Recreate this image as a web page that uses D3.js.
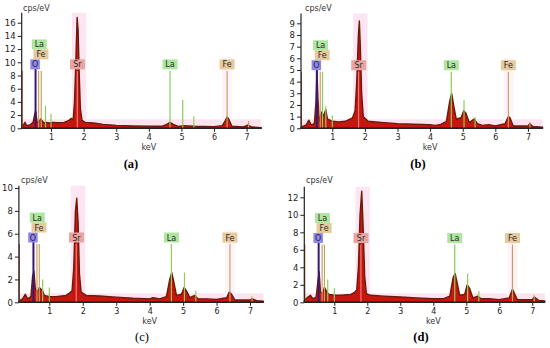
<!DOCTYPE html>
<html>
<head>
<meta charset="utf-8">
<script src="https://cdn.jsdelivr.net/npm/d3@7/dist/d3.min.js"></script>
<style>
body { margin: 0; background: #fff; }
svg { display: block; font-family: "DejaVu Sans", Verdana, sans-serif; }
</style>
</head>
<body>
<svg id="eds" width="550" height="348"></svg>
<script>
// spectra, [keV, cps/eV]
var specA = [[0.1,0.2],[0.15,0.5],[0.2,0.9],[0.25,0.4],[0.35,0.5],[0.45,0.9],[0.5,2.2],[0.53,2.6],[0.57,1.0],[0.62,0.9],[0.68,1.4],[0.72,1.2],[0.78,0.8],[0.85,0.9],[0.95,0.8],[1.05,0.9],[1.2,0.85],[1.4,0.9],[1.55,1.2],[1.62,1.5],[1.68,1.3],[1.72,4],[1.76,10],[1.8,16.8],[1.83,15],[1.86,9],[1.9,3],[1.95,1.2],[2.05,0.9],[2.3,0.8],[2.6,0.6],[3.0,0.45],[3.5,0.35],[4.0,0.3],[4.4,0.3],[4.55,0.6],[4.65,0.9],[4.75,0.6],[4.9,0.3],[5.05,0.4],[5.4,0.3],[6.0,0.25],[6.25,0.4],[6.35,1.2],[6.4,1.7],[6.45,1.4],[6.55,0.3],[6.9,0.2],[7.05,0.5],[7.15,0.2],[7.45,0.1]];
var specB = [[0.04,0.1],[0.2,0.3],[0.28,0.7],[0.35,0.3],[0.45,0.4],[0.5,2.3],[0.53,5.0],[0.56,2.5],[0.6,0.6],[0.68,1.4],[0.72,1.0],[0.8,1.6],[0.85,0.8],[1.0,0.6],[1.2,0.55],[1.4,0.6],[1.55,0.8],[1.62,0.9],[1.7,1.5],[1.75,4],[1.8,8],[1.83,9.2],[1.86,7],[1.9,3],[1.95,1.0],[2.1,0.6],[2.5,0.5],[3.0,0.4],[3.5,0.35],[4.0,0.3],[4.15,0.25],[4.3,0.3],[4.5,0.6],[4.6,2.3],[4.66,3.0],[4.72,2.0],[4.8,0.8],[4.95,0.9],[5.03,1.5],[5.1,1.3],[5.2,0.5],[5.35,0.8],[5.45,0.4],[5.6,0.25],[5.8,0.3],[6.0,0.2],[6.3,0.4],[6.4,1.0],[6.45,0.9],[6.55,0.2],[7.0,0.2],[7.06,0.4],[7.15,0.15],[7.45,0.1]];
var specC = [[0.09,0.1],[0.2,0.3],[0.28,0.7],[0.35,0.3],[0.45,0.5],[0.5,2.3],[0.54,2.7],[0.58,1.2],[0.65,0.9],[0.7,1.3],[0.8,1.0],[0.85,0.6],[1.0,0.5],[1.2,0.5],[1.5,0.6],[1.6,0.8],[1.68,1.0],[1.73,3],[1.78,8],[1.82,9.1],[1.86,7],[1.9,2.5],[1.95,0.9],[2.1,0.6],[2.5,0.55],[3.0,0.45],[3.5,0.35],[4.0,0.3],[4.1,0.4],[4.3,0.3],[4.5,0.5],[4.6,2.0],[4.66,2.6],[4.72,1.8],[4.8,0.6],[4.95,0.7],[5.03,1.3],[5.1,1.0],[5.2,0.4],[5.35,0.6],[5.45,0.3],[5.7,0.3],[6.0,0.25],[6.3,0.4],[6.38,0.9],[6.45,0.7],[6.55,0.2],[7.0,0.2],[7.06,0.3],[7.2,0.15],[7.4,0.1]];
var specD = [[0.09,0.2],[0.2,0.6],[0.28,0.8],[0.35,0.4],[0.45,0.6],[0.5,2.3],[0.54,3.5],[0.58,1.2],[0.65,1.0],[0.7,1.7],[0.8,1.0],[0.85,0.9],[1.0,0.8],[1.2,0.8],[1.5,0.9],[1.6,1.1],[1.68,1.4],[1.73,4],[1.78,10],[1.83,12.7],[1.87,9],[1.92,3],[1.97,1.0],[2.1,0.8],[2.5,0.7],[3.0,0.6],[3.5,0.5],[4.0,0.4],[4.3,0.4],[4.5,0.7],[4.6,2.8],[4.66,3.3],[4.72,2.3],[4.8,0.8],[4.95,0.9],[5.03,2.0],[5.1,1.6],[5.2,0.5],[5.35,0.7],[5.45,0.4],[5.7,0.4],[6.0,0.3],[6.3,0.5],[6.4,1.5],[6.45,1.1],[6.55,0.3],[7.0,0.3],[7.06,0.6],[7.2,0.2],[7.38,0.15]];

// element marker lines: [keV, element, height]
var linesA = [[0.525,"O",9.0],[0.62,"Fe",8.7],[0.7,"Fe",8.7],[0.83,"La",3.4],[1.0,"La",2.2],[1.806,"Sr",8.7],[4.65,"La",8.7],[5.04,"La",4.3],[5.38,"La",1.8],[6.40,"Fe",8.7],[7.06,"Fe",1.1]];
var linesB = [[0.525,"O",5.2],[0.63,"Fe",4.85],[0.7,"La",4.85],[0.8,"La",1.9],[1.0,"La",1.1],[1.806,"Sr",4.85],[4.65,"La",4.85],[5.04,"La",2.4],[5.38,"La",0.95],[6.40,"Fe",4.85],[7.06,"Fe",0.55]];
var linesC = [[0.525,"O",5.3],[0.63,"Fe",5.1],[0.7,"Fe",5.1],[0.8,"La",2.0],[1.0,"La",1.3],[1.806,"Sr",5.1],[4.65,"La",5.1],[5.04,"La",2.6],[5.38,"La",1.0],[6.40,"Fe",5.1],[7.06,"Fe",0.5]];
var linesD = [[0.525,"O",7.0],[0.63,"Fe",6.6],[0.7,"Fe",6.6],[0.8,"La",2.6],[1.0,"La",1.6],[1.806,"Sr",6.6],[4.65,"La",6.6],[5.04,"La",3.3],[5.38,"La",1.3],[6.40,"Fe",6.6],[7.06,"Fe",0.8]];

// labels: [text, keV, row]  row 0 = base row, 1 = above, 2 = top
var labels = [["O",0.51,0],["Fe",0.69,1],["La",0.64,2],["Sr",1.81,0],["La",4.65,0],["Fe",6.40,0]];
var mainHeights = [8.7, 4.85, 5.1, 6.6];

var yTicksA = [0,2,4,6,8,10,12,14,16];
var yTicksB = [0,1,2,3,4,5,6,7,8,9];
var yTicksC = [0,2,4,6,8,10];
var yTicksD = [0,2,4,6,8,10,12];
var xTicks = [1,2,3,4,5,6,7];
var captions = ["(a)","(b)","(c)","(d)"];

var lineColor = { O: "#3a1670", La: "#8ccc5a", Fe: "#c9a064", Sr: "#f07a7a" };
var boxColor  = { O: "#8f86ee", La: "#aee6a0", Fe: "#e6c99c", Sr: "#e9a3a0" };

var panels = [
  { spec: specA, lines: linesA, yTicks: yTicksA, yMinor: 0.5, kx: [0.1, 7.45], rx: [21.7, 261.3], ky: [0, 17.5], ry: [128.3, 12.8], cap: [131, 168], tx: 23, ty: 11 },
  { spec: specB, lines: linesB, yTicks: yTicksB, yMinor: 0.25, kx: [0.04, 7.45], rx: [301, 542.6], ky: [0, 9.85], ry: [128.3, 13.4], cap: [418, 168], tx: 305, ty: 11 },
  { spec: specC, lines: linesC, yTicks: yTicksC, yMinor: 0.5, kx: [0.09, 7.4], rx: [18.9, 263.4], ky: [0, 10.2], ry: [302.3, 185.7], cap: [142, 341], tx: 21, ty: 183 },
  { spec: specD, lines: linesD, yTicks: yTicksD, yMinor: 0.5, kx: [0.09, 7.38], rx: [304.3, 544.8], ky: [0, 13.2], ry: [302.3, 186.8], cap: [421, 341], tx: 306, ty: 183 }
];

var svg = d3.select("#eds");

panels.forEach(function(p, i) {
  var x = d3.scaleLinear().domain(p.kx).range(p.rx);
  var y = d3.scaleLinear().domain(p.ky).range(p.ry);
  var g = svg.append("g");

  // pink ROI shading
  g.append("rect")
    .attr("x", p.rx[0]).attr("width", p.rx[1] - p.rx[0])
    .attr("y", p.ry[0] - 9).attr("height", 9)
    .attr("fill", "#fde2f0");
  g.append("rect")
    .attr("x", x(1.64)).attr("width", x(2.08) - x(1.64))
    .attr("y", p.ry[1]).attr("height", p.ry[0] - p.ry[1])
    .attr("fill", "#fde6f2");
  g.append("rect")
    .attr("x", x(6.25)).attr("width", x(6.56) - x(6.25))
    .attr("y", y(mainHeights[i]) - 14).attr("height", p.ry[0] - y(mainHeights[i]) + 14)
    .attr("fill", "#fef3f8");

  // spectrum
  var area = d3.area()
    .x(function(d) { return x(d[0]); })
    .y0(y(0))
    .y1(function(d) { return y(d[1]); });
  g.append("path")
    .datum(p.spec)
    .attr("d", area)
    .attr("fill", "#c8160f")
    .attr("stroke", "#6b1a0b")
    .attr("stroke-width", 1.4)
    .attr("stroke-linejoin", "round");

  // left edge line
  g.append("line")
    .attr("x1", p.rx[0] + 0.5).attr("x2", p.rx[0] + 0.5)
    .attr("y1", y(0)).attr("y2", y(mainHeights[i]))
    .attr("stroke", "#b0402a").attr("stroke-width", 1);

  // element marker lines
  g.selectAll(".mk")
    .data(p.lines)
    .enter().append("line")
      .attr("x1", function(d) { return x(d[0]); })
      .attr("x2", function(d) { return x(d[0]); })
      .attr("y1", y(0))
      .attr("y2", function(d) { return y(d[2]); })
      .attr("stroke", function(d) { return lineColor[d[1]]; })
      .attr("stroke-width", function(d) { return d[1] == "O" ? 2 : 1.2; });

  // axes
  var xAxis = g.append("g").attr("transform", "translate(0," + y(0) + ")");
  xAxis.call(d3.axisBottom(x).tickValues(d3.range(1, 75).map(function(k) { return k / 10; }).filter(function(k) { return k >= p.kx[0] && k <= p.kx[1]; }))
      .tickSize(2).tickFormat(""))
    .select(".domain").remove();
  xAxis.call(d3.axisBottom(x).tickValues(xTicks).tickSize(3.5).tickPadding(3)
      .tickFormat(d3.format("d")));
  xAxis.selectAll("text").attr("font-size", 8).attr("fill", "#222").attr("font-family", "DejaVu Sans, sans-serif");
  xAxis.selectAll("line").attr("stroke", "#222");
  xAxis.select(".domain").attr("stroke", "#222").attr("stroke-width", 1.5).attr("d", "M" + p.rx[0] + ",0H" + p.rx[1]);

  var yAxis = g.append("g").attr("transform", "translate(" + p.rx[0] + ",0)");
  yAxis.call(d3.axisLeft(y).tickValues(d3.range(0, p.ky[1], p.yMinor)).tickSize(2).tickFormat(""))
    .select(".domain").remove();
  yAxis.call(d3.axisLeft(y).tickValues(p.yTicks).tickSize(4).tickPadding(2)
      .tickFormat(d3.format("d")));
  yAxis.selectAll("text").attr("font-size", 8.5).attr("fill", "#222").attr("font-family", "DejaVu Sans, sans-serif");
  yAxis.selectAll("line").attr("stroke", "#222");
  yAxis.select(".domain").attr("stroke", "#222").attr("stroke-width", 1.2).attr("d", "M0," + p.ry[0] + "V" + p.ry[1]);

  g.append("text")
    .attr("x", p.tx).attr("y", p.ty)
    .attr("font-size", 8).attr("fill", "#333")
    .text("cps/eV");
  g.append("text")
    .attr("x", x(4)).attr("y", y(0) + 22)
    .attr("text-anchor", "middle")
    .attr("font-size", 8).attr("fill", "#333")
    .text("keV");

  // element labels
  var rowY = y(mainHeights[i]) - 6.5;
  var lab = g.selectAll(".lab")
    .data(labels)
    .enter().append("g")
      .attr("transform", function(d) { return "translate(" + x(d[1]) + "," + (rowY - d[2] * 10) + ")"; });
  lab.append("rect")
    .attr("x", function(d) { return -(d[0].length * 5.5 + 4) / 2; })
    .attr("width", function(d) { return d[0].length * 5.5 + 4; })
    .attr("y", -5).attr("height", 10)
    .attr("fill", function(d) { return boxColor[d[0]]; });
  lab.append("text")
    .attr("text-anchor", "middle")
    .attr("y", 3)
    .attr("font-size", 8)
    .attr("fill", "#2a2a2a")
    .text(function(d) { return d[0]; });

  svg.append("text")
    .attr("x", p.cap[0]).attr("y", p.cap[1])
    .attr("text-anchor", "middle")
    .attr("font-family", "Liberation Serif, serif")
    .attr("font-size", 12.5)
    .attr("font-weight", i == 2 ? "normal" : "bold")
    .text(captions[i]);
});
</script>
</body>
</html>
